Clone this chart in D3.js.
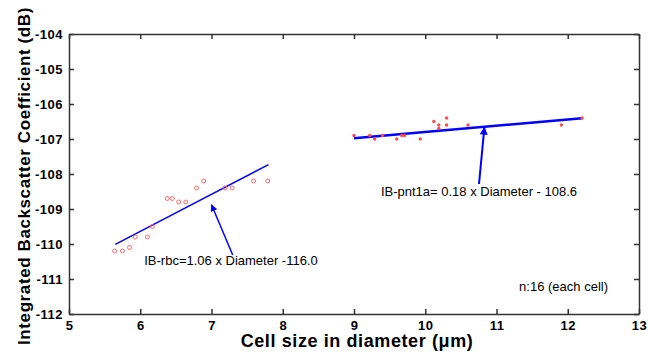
<!DOCTYPE html>
<html>
<head>
<meta charset="utf-8">
<script src="https://cdn.jsdelivr.net/npm/d3@7"></script>
<style>
  body { margin: 0; background: #fff; }
  text { font-family: "Liberation Sans", Arial, sans-serif; }
</style>
</head>
<body>
<svg id="chart" width="648" height="354"></svg>
<script>
// red blood cells (open circles)
const rbcDiameter = [5.64, 5.75, 5.85, 5.93, 6.10, 6.17, 6.38, 6.45, 6.54, 6.64, 6.79, 6.89, 7.19, 7.29, 7.59, 7.79];
const rbcIB = [-110.2, -110.2, -110.1, -109.8, -109.8, -109.5, -108.7, -108.7, -108.8, -108.8, -108.4, -108.2, -108.4, -108.4, -108.2, -108.2];

// pnt1a cells (dots)
const pntDiameter = [9.0, 9.22, 9.29, 9.40, 9.60, 9.67, 9.71, 9.93, 10.12, 10.19, 10.19, 10.30, 10.30, 10.60, 11.91, 12.20];
const pntIB = [-106.9, -106.9, -107.0, -106.9, -107.0, -106.9, -106.9, -107.0, -106.5, -106.6, -106.7, -106.4, -106.6, -106.6, -106.6, -106.4];

// linear fits: slope, intercept, x range
const rbcFit = { slope: 1.06, intercept: -116.0, from: 5.65, to: 7.8 };
const pntFit = { slope: 0.18, intercept: -108.6, from: 9.0, to: 12.2 };

const xTicks = [5, 6, 7, 8, 9, 10, 11, 12, 13];
const yTicks = [-104, -105, -106, -107, -108, -109, -110, -111, -112];

const margin = { top: 34, right: 9, bottom: 40, left: 69 };
const width = 648, height = 354;

const svg = d3.select("#chart");

const x = d3.scaleLinear([5, 13], [margin.left, width - margin.right]);
const y = d3.scaleLinear([-112, -104], [height - margin.bottom, margin.top]);

// arrowheads
const defs = svg.append("defs");
defs.append("marker")
  .attr("id", "head")
  .attr("viewBox", "0 0 10 10")
  .attr("refX", 9).attr("refY", 5)
  .attr("markerWidth", 7).attr("markerHeight", 7)
  .attr("markerUnits", "userSpaceOnUse")
  .attr("orient", "auto")
  .append("path")
  .attr("d", "M0,0 L10,5 L0,10 z")
  .attr("fill", "#0000ff");
defs.append("marker")
  .attr("id", "head2")
  .attr("viewBox", "0 0 10 10")
  .attr("refX", 9).attr("refY", 5)
  .attr("markerWidth", 10).attr("markerHeight", 8)
  .attr("markerUnits", "userSpaceOnUse")
  .attr("orient", "auto")
  .append("path")
  .attr("d", "M0,0 L10,5 L0,10 z")
  .attr("fill", "#0000ff");

// axes (ticks pointing inward, box frame)
const axisStyle = g => {
  g.selectAll("path").attr("stroke", "#333").attr("stroke-width", 1.5);
  g.selectAll("line").attr("stroke", "#333").attr("stroke-width", 1.5);
};
const tickText = g => g.selectAll("text")
  .attr("font-size", 13)
  .attr("font-weight", "bold")
  .attr("letter-spacing", 0.5)
  .attr("fill", "#000");

svg.append("g")
  .attr("transform", `translate(0,${height - margin.bottom})`)
  .call(d3.axisBottom(x).tickValues(xTicks).tickSize(-5).tickSizeOuter(0).tickPadding(7))
  .call(axisStyle)
  .call(tickText);

svg.append("g")
  .attr("transform", `translate(0,${margin.top})`)
  .call(d3.axisTop(x).tickValues(xTicks).tickSize(-5).tickSizeOuter(0).tickFormat(""))
  .call(axisStyle);

svg.append("g")
  .attr("transform", `translate(${margin.left},0)`)
  .call(d3.axisLeft(y).tickValues(yTicks).tickSize(-5).tickSizeOuter(0).tickPadding(6).tickFormat(d => String(d)))
  .call(axisStyle)
  .call(tickText);

svg.append("g")
  .attr("transform", `translate(${width - margin.right},0)`)
  .call(d3.axisRight(y).tickValues(yTicks).tickSize(-5).tickSizeOuter(0).tickFormat(""))
  .call(axisStyle);

// fit lines
const fitLine = (f) => [[f.from, f.slope * f.from + f.intercept], [f.to, f.slope * f.to + f.intercept]];
const line = d3.line().x(d => x(d[0])).y(d => y(d[1]));

svg.append("path")
  .attr("d", line(fitLine(rbcFit)))
  .attr("stroke", "#0000ff").attr("stroke-width", 1.5).attr("fill", "none");

svg.append("path")
  .attr("d", line(fitLine(pntFit)))
  .attr("stroke", "#0000ff").attr("stroke-width", 2.5).attr("fill", "none");

// points
svg.selectAll("circle.rbc")
  .data(rbcDiameter.map((d, i) => [d, rbcIB[i]]))
  .join("circle")
  .attr("class", "rbc")
  .attr("cx", d => x(d[0]))
  .attr("cy", d => y(d[1]))
  .attr("r", 2)
  .attr("fill", "none")
  .attr("stroke", "#ff6a6a")
  .attr("stroke-width", 1);

svg.selectAll("circle.pnt")
  .data(pntDiameter.map((d, i) => [d, pntIB[i]]))
  .join("circle")
  .attr("class", "pnt")
  .attr("cx", d => x(d[0]))
  .attr("cy", d => y(d[1]))
  .attr("r", 1.7)
  .attr("fill", "#ff4a4a");

// annotations
svg.append("line")
  .attr("x1", 232.7).attr("y1", 255)
  .attr("x2", x(7.0)).attr("y2", y(-108.88))
  .attr("stroke", "#0000ff").attr("stroke-width", 1.5)
  .attr("marker-end", "url(#head)");

svg.append("line")
  .attr("x1", 479).attr("y1", 184)
  .attr("x2", x(10.83)).attr("y2", y(-106.67))
  .attr("stroke", "#0000ff").attr("stroke-width", 2)
  .attr("marker-end", "url(#head2)");

svg.append("text")
  .attr("x", 231).attr("y", 265)
  .attr("text-anchor", "middle")
  .attr("font-size", 13)
  .text("IB-rbc=1.06 x Diameter -116.0");

svg.append("text")
  .attr("x", 479).attr("y", 196)
  .attr("text-anchor", "middle")
  .attr("font-size", 13)
  .text("IB-pnt1a= 0.18 x Diameter - 108.6");

svg.append("text")
  .attr("x", 608).attr("y", 291)
  .attr("text-anchor", "end")
  .attr("font-size", 13)
  .text("n:16 (each cell)");

// axis titles
svg.append("text")
  .attr("x", 357).attr("y", 347)
  .attr("text-anchor", "middle")
  .attr("font-size", 18)
  .attr("font-weight", "bold")
  .attr("letter-spacing", 0.6)
  .text("Cell size in diameter (\u03bcm)");

svg.append("text")
  .attr("transform", "translate(30,176) rotate(-90)")
  .attr("text-anchor", "middle")
  .attr("font-size", 17)
  .attr("font-weight", "bold")
  .attr("letter-spacing", 0.6)
  .text("Integrated Backscatter Coefficient (dB)");
</script>
</body>
</html>
